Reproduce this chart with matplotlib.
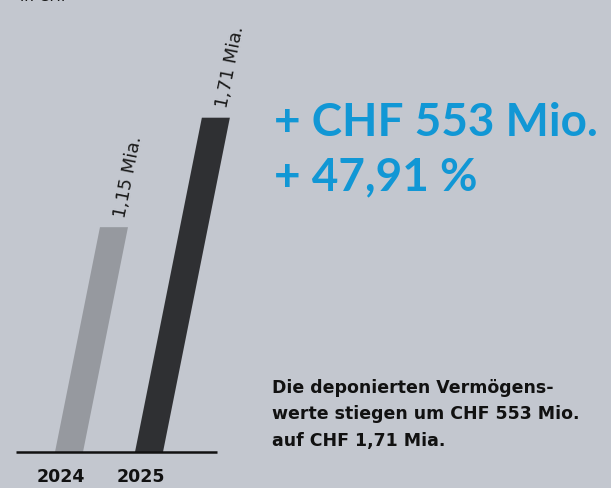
import matplotlib
matplotlib.use("Agg")
import matplotlib.pyplot as plt
from matplotlib.patches import Polygon

# ── Daten ──
years = ["2024", "2025"]
values = [1.15, 1.71]          # Mia. CHF
value_labels = ["1,15 Mia.", "1,71 Mia."]
bar_colors = ["#96999f", "#2f3033"]
headline = ["+ CHF 553 Mio.", "+ 47,91 %"]
note = "Die deponierten Vermögens-\nwerte stiegen um CHF 553 Mio.\nauf CHF 1,71 Mia."

BG = "#c3c7cf"
BLUE = "#1197d5"
FONT = ["Lato", "DejaVu Sans"]
WIDE = ["DejaVu Sans"]

W, H = 611, 488
PX_PER_UNIT = 195.5   # vertical pixels per Mia.
BASE_Y = 452          # baseline in pixels from top
SHEAR = 0.2           # horizontal shift per vertical pixel

fig = plt.figure(figsize=(W / 100, H / 100), dpi=100, facecolor=BG)
ax = fig.add_axes([0, 0, 1, 1])
ax.set_facecolor(BG)
ax.set_xlim(0, W)
ax.set_ylim((BASE_Y - H) / PX_PER_UNIT, BASE_Y / PX_PER_UNIT)
ax.axis("off")

centers = [69, 149]
bar_w = 28
dx = SHEAR * PX_PER_UNIT   # x-pixels per Mia.

for c, v, col, lab, yr in zip(centers, values, bar_colors, value_labels, years):
    x0, x1 = c - bar_w / 2, c + bar_w / 2
    poly = Polygon([(x0, 0), (x1, 0), (x1 + dx * v, v), (x0 + dx * v, v)],
                   closed=True, facecolor=col, edgecolor="none")
    ax.add_patch(poly)
    ty = v + 0.05
    ax.text(c + 4 + dx * ty, ty, lab, rotation=78.7, rotation_mode="anchor",
            ha="left", va="center", fontsize=13, color="#1a1a1a", family=WIDE)
    ax.text(c - 8, (BASE_Y - 477) / PX_PER_UNIT, yr, ha="center", va="center",
            fontsize=12.5, fontweight="bold", color="#111111", family=WIDE)

ax.plot([16, 217], [0, 0], color="#111111", lw=1.8, solid_capstyle="butt")

# Überschrift oben links (abgeschnitten)
fig.text(20 / W, 1 - 1 / H, "in CHF", ha="left", va="baseline",
         fontsize=11, color="#1a1a1a", family=WIDE)

fig.text(274 / W, 1 - 136 / H, headline[0], ha="left", va="baseline",
         fontsize=33, fontweight="bold", color=BLUE, family=FONT)
fig.text(274 / W, 1 - 190 / H, headline[1], ha="left", va="baseline",
         fontsize=33, fontweight="bold", color=BLUE, family=FONT)

fig.text(272 / W, 1 - 379 / H, note, ha="left", va="top", fontsize=12.5,
         fontweight="bold", color="#111111", family=WIDE, linespacing=1.6)

fig.savefig("out.png", dpi=100, facecolor=BG)
